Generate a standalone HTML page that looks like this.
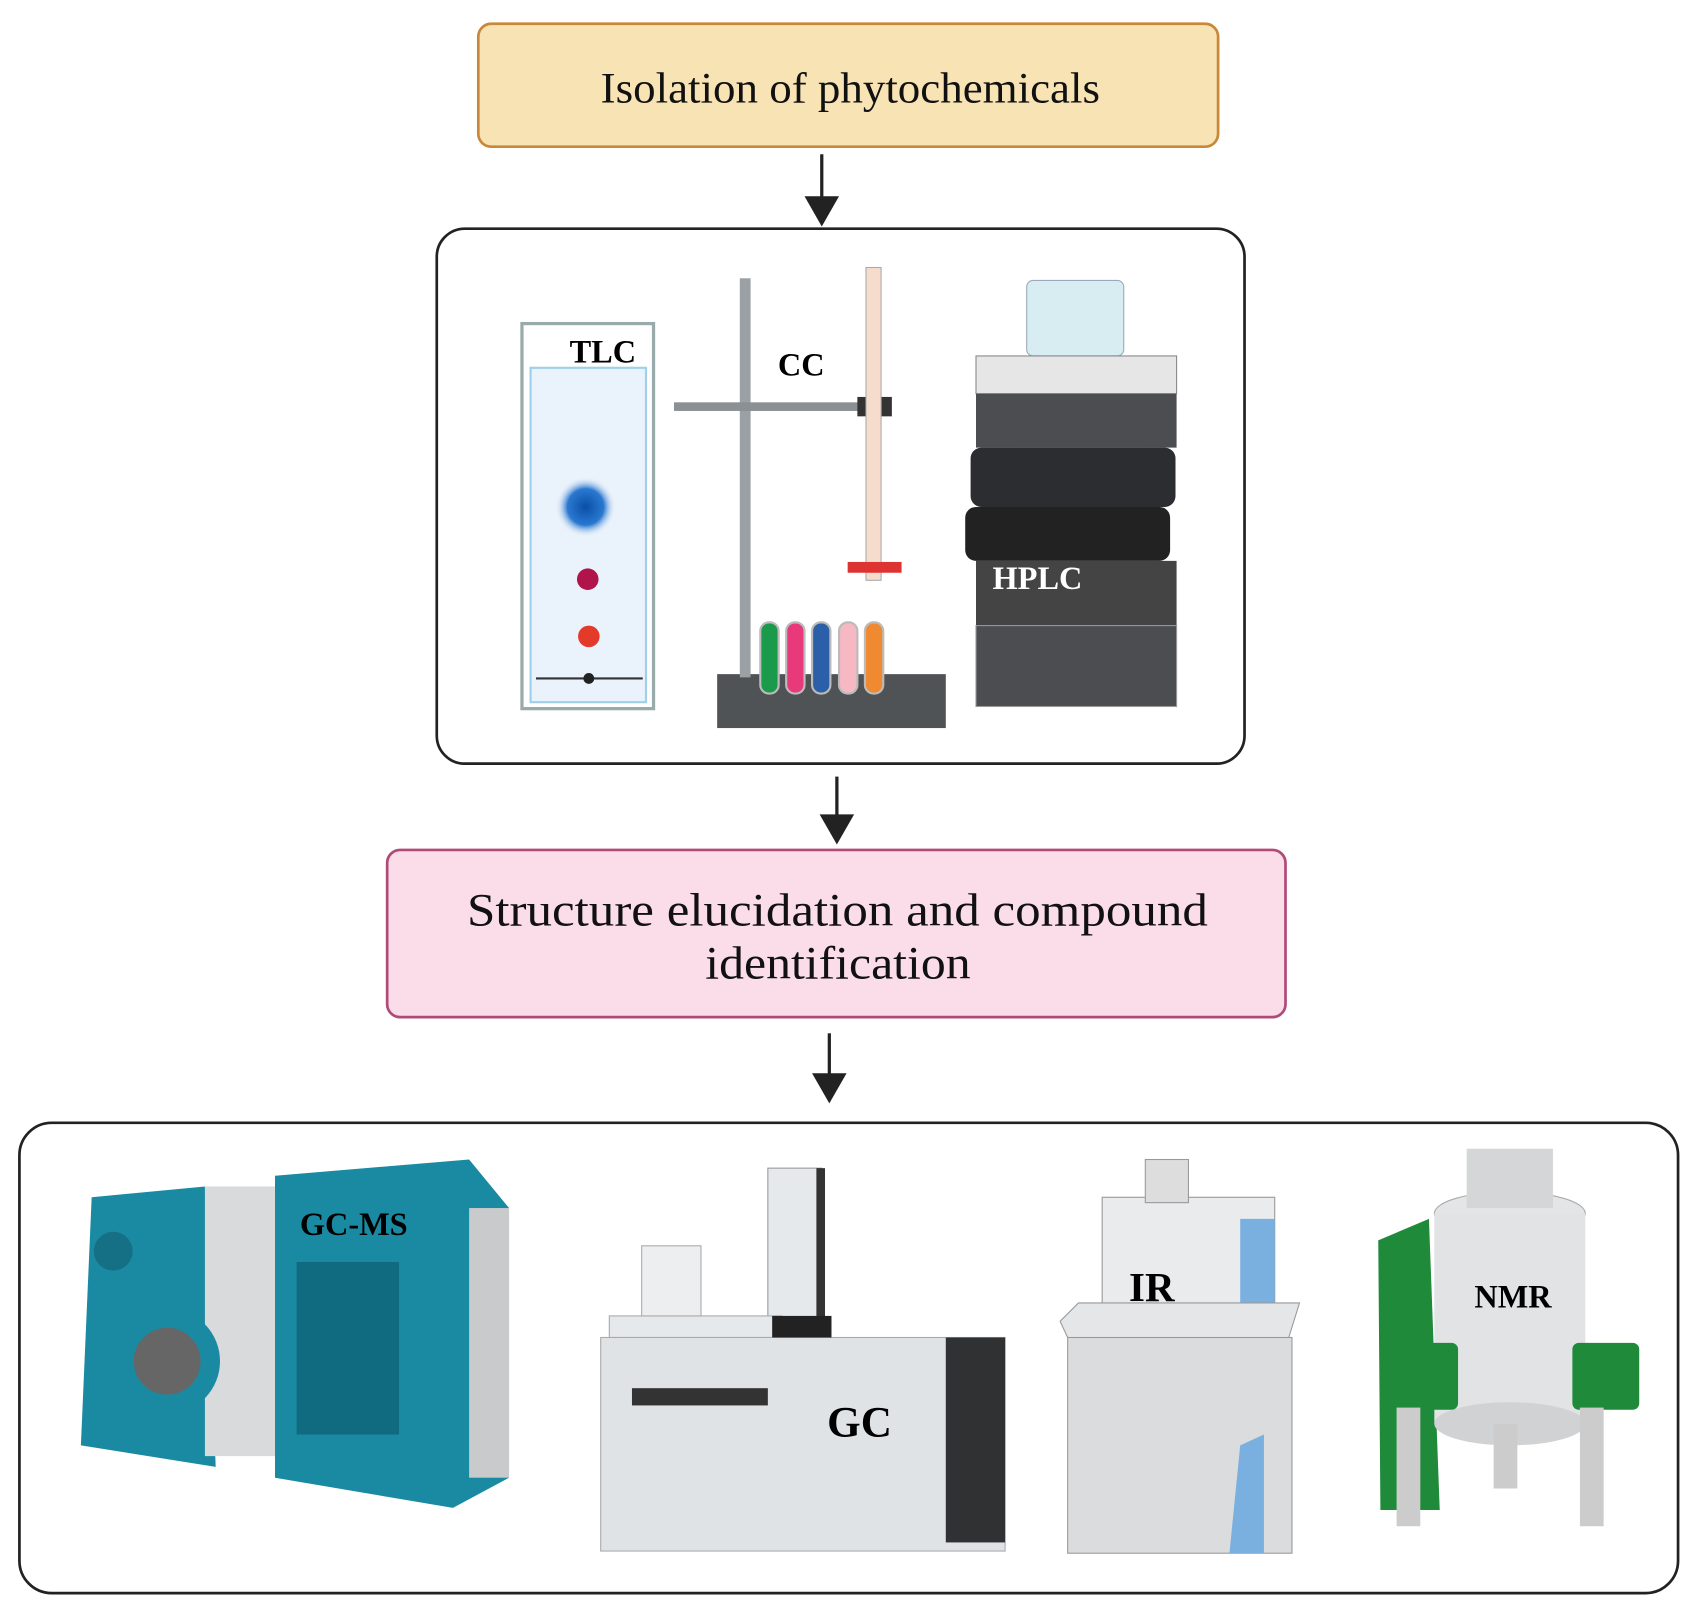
<!DOCTYPE html>
<html><head><meta charset="utf-8"><style>html,body{margin:0;padding:0;background:#fff}svg{display:block}</style></head>
<body>
<svg width="1691" height="1619" viewBox="0 0 1568 1501" preserveAspectRatio="none" xmlns="http://www.w3.org/2000/svg" font-family="'Liberation Serif', serif">
<defs>
<radialGradient id="blue"><stop offset="0" stop-color="#0a4fa8"/><stop offset=".6" stop-color="#2a78d0"/><stop offset="1" stop-color="#e8f1fb" stop-opacity="0"/></radialGradient>
</defs>
<rect x="443.5" y="22" width="686" height="114" rx="12" fill="#f7e3b4" stroke="#c9873a" stroke-width="2.5"/>
<text x="557" y="95" font-size="40" textLength="463" lengthAdjust="spacingAndGlyphs" fill="#111">Isolation of phytochemicals</text>
<g stroke="#222" stroke-width="3" fill="#222">
<line x1="762" y1="143" x2="762" y2="185"/><path d="M746,182 L778,182 L762,210z" stroke="none"/>
<line x1="776" y1="720" x2="776" y2="758"/><path d="M760,755 L792,755 L776,783z" stroke="none"/>
<line x1="769" y1="958" x2="769" y2="998"/><path d="M753,995 L785,995 L769,1023z" stroke="none"/>
</g>
<rect x="405" y="212" width="749" height="496" rx="26" fill="#fff" stroke="#222" stroke-width="2.5"/>
<rect x="484" y="300" width="122" height="357" fill="#fff" stroke="#9aa" stroke-width="3"/>
<rect x="492" y="341" width="107" height="310" fill="#eaf2fb" stroke="#9fd0ea" stroke-width="2"/>
<circle cx="543" cy="470" r="28" fill="url(#blue)"/>
<circle cx="545" cy="537" r="10" fill="#b0144a"/>
<circle cx="546" cy="590" r="10" fill="#e43a2a"/>
<line x1="497" y1="629" x2="596" y2="629" stroke="#333" stroke-width="2"/><circle cx="546" cy="629" r="5" fill="#222"/>
<text x="559" y="336" font-size="30" font-weight="bold" text-anchor="middle">TLC</text>
<rect x="665" y="625" width="212" height="50" fill="#4f5356"/>
<rect x="686" y="258" width="10" height="370" fill="#9aa0a4"/>
<rect x="625" y="373" width="200" height="8" fill="#8a9094"/>
<rect x="795" y="368" width="32" height="18" fill="#333"/>
<rect x="803" y="248" width="14" height="290" fill="#f6dccb" stroke="#aaa"/>
<rect x="786" y="521" width="50" height="10" fill="#d33"/>
<g stroke="#bbb" stroke-width="2">
<rect x="705" y="577" width="17" height="66" rx="8" fill="#1a9a4a"/>
<rect x="729" y="577" width="17" height="66" rx="8" fill="#e83a7a"/>
<rect x="753" y="577" width="17" height="66" rx="8" fill="#2b5fa8"/>
<rect x="778" y="577" width="17" height="66" rx="8" fill="#f6b8c2"/>
<rect x="802" y="577" width="17" height="66" rx="8" fill="#f08a30"/>
</g>
<text x="743" y="348" font-size="30" font-weight="bold" text-anchor="middle">CC</text>
<rect x="952" y="260" width="90" height="70" rx="6" fill="#d7edf2" stroke="#9ab"/>
<rect x="905" y="330" width="186" height="35" fill="#e6e6e6" stroke="#888"/>
<rect x="905" y="365" width="186" height="50" fill="#4b4d50"/>
<rect x="900" y="415" width="190" height="55" rx="10" fill="#2c2d30"/>
<rect x="895" y="470" width="190" height="50" rx="10" fill="#222"/>
<rect x="905" y="520" width="186" height="60" fill="#444"/>
<rect x="905" y="580" width="186" height="75" fill="#4b4d50" stroke="#999"/>
<text x="962" y="546" font-size="30" font-weight="bold" text-anchor="middle" fill="#fff">HPLC</text>
<rect x="359" y="788" width="833" height="155" rx="12" fill="#fadde9" stroke="#b04a78" stroke-width="2.5"/>
<text x="433" y="858" font-size="43" textLength="687" lengthAdjust="spacingAndGlyphs" fill="#111">Structure elucidation and compound</text>
<text x="654" y="907" font-size="43" textLength="246" lengthAdjust="spacingAndGlyphs" fill="#111">identification</text>
<rect x="18" y="1041" width="1538" height="436" rx="30" fill="#fff" stroke="#222" stroke-width="2.5"/>
<path d="M85,1110 L190,1100 L200,1360 L75,1340 Z" fill="#1a8aa3"/>
<rect x="190" y="1100" width="70" height="250" fill="#d8dadc"/>
<path d="M255,1090 L435,1075 L472,1120 L472,1370 L420,1398 L255,1370 Z" fill="#1a8aa3"/>
<rect x="435" y="1120" width="37" height="250" fill="#c8cacc"/>
<rect x="275" y="1170" width="95" height="160" fill="#106a80"/>
<circle cx="155" cy="1262" r="40" fill="#666" stroke="#1a8aa3" stroke-width="18"/>
<circle cx="105" cy="1160" r="18" fill="#157086"/>
<text x="328" y="1145" font-size="30" font-weight="bold" text-anchor="middle">GC-MS</text>
<rect x="712" y="1083" width="50" height="140" fill="#e6e9eb" stroke="#999"/>
<rect x="757" y="1083" width="8" height="140" fill="#333"/>
<rect x="565" y="1220" width="160" height="20" fill="#e6e9eb" stroke="#aaa"/>
<rect x="595" y="1155" width="55" height="65" fill="#eceeef" stroke="#aaa"/>
<rect x="557" y="1240" width="375" height="198" fill="#dfe3e6" stroke="#aaa"/>
<rect x="586" y="1287" width="126" height="16" fill="#333"/>
<rect x="877" y="1240" width="55" height="190" fill="#2f3133"/>
<rect x="716" y="1220" width="55" height="20" fill="#222"/>
<text x="797" y="1332" font-size="40" font-weight="bold" text-anchor="middle">GC</text>
<rect x="1022" y="1110" width="160" height="120" fill="#e9ebed" stroke="#999"/>
<path d="M1150,1130 L1182,1130 L1182,1220 L1150,1230Z" fill="#7ab0e0"/>
<rect x="1062" y="1075" width="40" height="40" fill="#ddd" stroke="#999"/>
<path d="M983,1225 L1000,1208 L1205,1208 L1195,1240 L990,1240Z" fill="#e4e6e8" stroke="#999"/>
<rect x="990" y="1240" width="208" height="200" fill="#dadcde" stroke="#999"/>
<path d="M1150,1340 L1172,1330 L1172,1440 L1140,1440Z" fill="#7ab0e0"/>
<text x="1068" y="1206" font-size="38" font-weight="bold" text-anchor="middle">IR</text>
<path d="M1278,1150 L1325,1130 L1335,1400 L1280,1400Z" fill="#1f8a3a"/>
<ellipse cx="1400" cy="1125" rx="70" ry="20" fill="#e3e5e7" stroke="#aaa"/>
<rect x="1330" y="1125" width="140" height="195" fill="#e1e3e5"/>
<ellipse cx="1400" cy="1320" rx="70" ry="20" fill="#d0d2d4"/>
<rect x="1290" y="1245" width="62" height="62" rx="6" fill="#1f8a3a"/>
<rect x="1458" y="1245" width="62" height="62" rx="6" fill="#1f8a3a"/>
<rect x="1295" y="1305" width="22" height="110" fill="#ccc"/>
<rect x="1465" y="1305" width="22" height="110" fill="#ccc"/>
<rect x="1385" y="1320" width="22" height="60" fill="#ccc"/>
<rect x="1360" y="1065" width="80" height="55" fill="#d4d6d8"/>
<text x="1403" y="1212" font-size="30" font-weight="bold" text-anchor="middle">NMR</text>
</svg>
</body></html>
